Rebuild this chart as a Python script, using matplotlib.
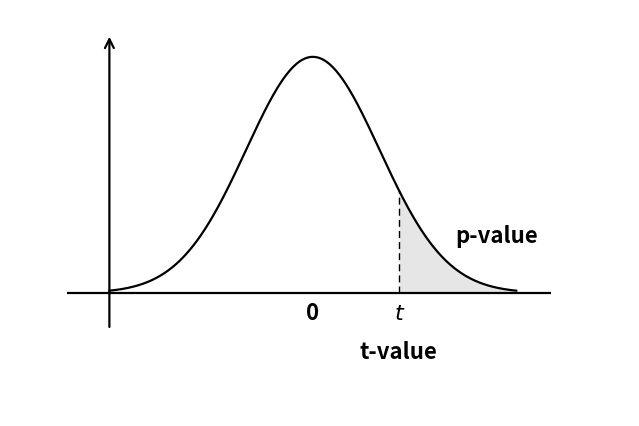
import numpy as np
import matplotlib
matplotlib.use('Agg')
import matplotlib.pyplot as plt

plt.rcParams['font.family'] = ['Noto Sans CJK SC', 'DejaVu Sans']

# distribution shown (standard normal shape), t position and labels
mu = 0.0
sigma = 1.0
t_val = 1.29
x_range = (-3.05, 3.05)
tick_labels = ['0', 't']
axis_label = 't-value'
area_label = 'p-value'

x = np.linspace(x_range[0], x_range[1], 400)
y = np.exp(-0.5 * ((x - mu) / sigma) ** 2) / (sigma * np.sqrt(2 * np.pi))

fig = plt.figure(figsize=(6.39, 4.26), dpi=100)
ax = fig.add_axes([0, 0, 1, 1])
ax.set_xlim(-4.69, 4.89)
ax.set_ylim(-0.2248, 0.495)
ax.axis('off')

# axes
ax.plot([-3.69, 3.57], [0, 0], color='black', lw=1.6, solid_capstyle='butt')
ax.annotate('', xy=(-3.05, 0.433), xytext=(-3.05, -0.0575),
            arrowprops=dict(arrowstyle='->', lw=1.6, color='black',
                            mutation_scale=16, shrinkA=0, shrinkB=0))

# curve and tail area
ax.plot(x, y, color='black', lw=1.6)
tail = x >= t_val
ax.fill_between(x[tail], 0, y[tail], color='#e6e6e6', lw=0)
y_t = np.exp(-0.5 * ((t_val - mu) / sigma) ** 2) / (sigma * np.sqrt(2 * np.pi))
ax.plot([t_val, t_val], [0, y_t], color='black', lw=1, ls=(0, (5, 3)))

# labels
fs = 16
ax.text(mu, -0.035, tick_labels[0], ha='center', va='center', fontsize=fs,
        weight='bold')
ax.text(t_val, -0.035, tick_labels[1], ha='center', va='center', fontsize=fs,
        style='italic', family='DejaVu Sans')
ax.text(t_val, -0.101, axis_label, ha='center', va='center', fontsize=fs,
        weight='bold')
ax.text(2.76, 0.096, area_label, ha='center', va='center', fontsize=fs,
        weight='bold')

fig.savefig('out.png', dpi=100)
